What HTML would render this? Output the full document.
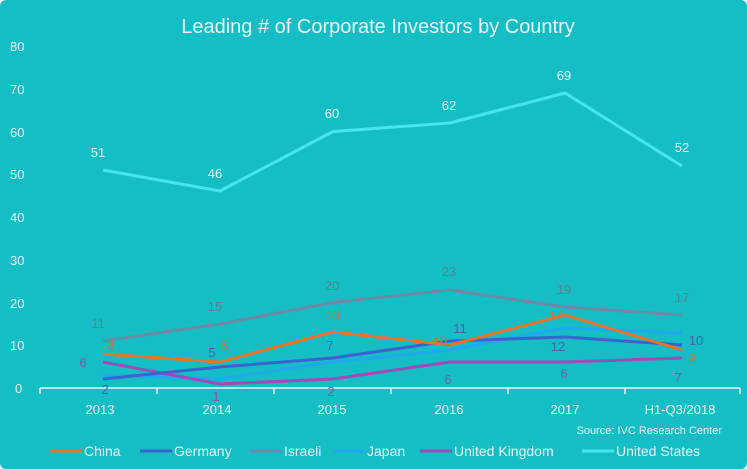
<!DOCTYPE html>
<html><head><style>
body{margin:0;background:#fff}
svg{display:block}
text{font-family:"Liberation Sans",sans-serif}
</style></head><body>
<svg width="747" height="469" viewBox="0 0 747 469">
<rect x="0" y="0" width="747" height="469" rx="6" fill="#15bdc5"/>
<text x="378" y="33" text-anchor="middle" fill="#e6f7f8" font-size="20">Leading # of Corporate Investors by Country</text>
<g fill="#e6f7f8" font-size="13">
<text x="10" y="51">80</text><text x="10" y="94">70</text><text x="10" y="137">60</text><text x="10" y="179">50</text><text x="10" y="222">40</text><text x="10" y="265">30</text><text x="10" y="308">20</text><text x="10" y="350">10</text><text x="15" y="393">0</text>
</g>
<g stroke="#e6f7f8" stroke-width="1.5">
<line x1="40" y1="388" x2="740" y2="388"/>
<line x1="40" y1="388" x2="40" y2="394"/><line x1="157" y1="388" x2="157" y2="394"/><line x1="274" y1="388" x2="274" y2="394"/><line x1="391" y1="388" x2="391" y2="394"/><line x1="508" y1="388" x2="508" y2="394"/><line x1="625" y1="388" x2="625" y2="394"/><line x1="740" y1="388" x2="740" y2="394"/>
</g>
<g fill="#e6f7f8" font-size="13" text-anchor="middle">
<text x="100" y="414">2013</text><text x="217" y="414">2014</text><text x="332" y="414">2015</text><text x="449" y="414">2016</text><text x="565" y="414">2017</text><text x="680" y="414">H1-Q3/2018</text>
</g>
<text x="722" y="434" text-anchor="end" fill="#e6f7f8" font-size="11">Source: IVC Research Center</text>
<g fill="none" stroke-width="3" stroke-linejoin="round">
<polyline stroke="#6a8aa6" points="103,341 220,324 333,302.5 450,290 565,307 682,315"/>
<polyline stroke="#1ea8ee" points="103,375 220,379 333,362 450,350 565,328 682,333"/>
<polyline stroke="#9a4cb8" points="103,362 220,384 333,379 450,362 565,362 682,358"/>
<polyline stroke="#3d62cf" points="103,379 220,367 333,358 450,341 565,337 682,345"/>
<polyline stroke="#e8742c" points="103,354 220,362 333,332 450,345 565,315 682,350"/>
<polyline stroke="#45e6ef" points="103,170 220,191 333,131.5 450,123 565,93 682,166"/>
</g>
<g fill="#e6f7f8" font-size="13" text-anchor="middle">
<text x="98" y="157">51</text><text x="215" y="178">46</text><text x="332" y="118">60</text><text x="449" y="110">62</text><text x="564" y="80">69</text><text x="682" y="152">52</text>
</g>
<g fill="#5a8090" font-size="13" text-anchor="middle">
<text x="98" y="328">11</text><text x="215" y="311">15</text><text x="332" y="290">20</text><text x="449" y="276">23</text><text x="564" y="294">19</text><text x="682" y="302">17</text>
</g>
<g fill="#c87838" font-size="13" text-anchor="middle">
<text x="111" y="350">8</text><text x="224" y="350">6</text><text x="333" y="320">13</text><text x="440" y="346">10</text><text x="556" y="320">17</text><text x="692" y="362">9</text>
</g>
<g fill="#3a68a8" font-size="13" text-anchor="middle">
<text x="105" y="394">2</text><text x="212" y="357">5</text><text x="330" y="350">7</text><text x="460" y="333">11</text><text x="558" y="351">12</text><text x="696" y="345">10</text>
</g>
<g fill="#7a5aa0" font-size="13" text-anchor="middle">
<text x="83" y="367">6</text><text x="216" y="401">1</text><text x="331" y="396">2</text><text x="448" y="384">6</text><text x="564" y="378">6</text><text x="678" y="382">7</text>
</g>
<g stroke-width="3">
<line x1="50" y1="451" x2="82" y2="451" stroke="#e8742c"/>
<line x1="140" y1="451" x2="172" y2="451" stroke="#3d62cf"/>
<line x1="250" y1="451" x2="282" y2="451" stroke="#6a8aa6"/>
<line x1="333" y1="451" x2="365" y2="451" stroke="#1ea8ee"/>
<line x1="420" y1="451" x2="452" y2="451" stroke="#9a4cb8"/>
<line x1="582" y1="451" x2="614" y2="451" stroke="#45e6ef"/>
</g>
<g fill="#e6f7f8" font-size="14">
<text x="84" y="456">China</text><text x="174" y="456">Germany</text><text x="284" y="456">Israeli</text><text x="367" y="456">Japan</text><text x="454" y="456">United Kingdom</text><text x="616" y="456">United States</text>
</g>
</svg>
</body></html>
